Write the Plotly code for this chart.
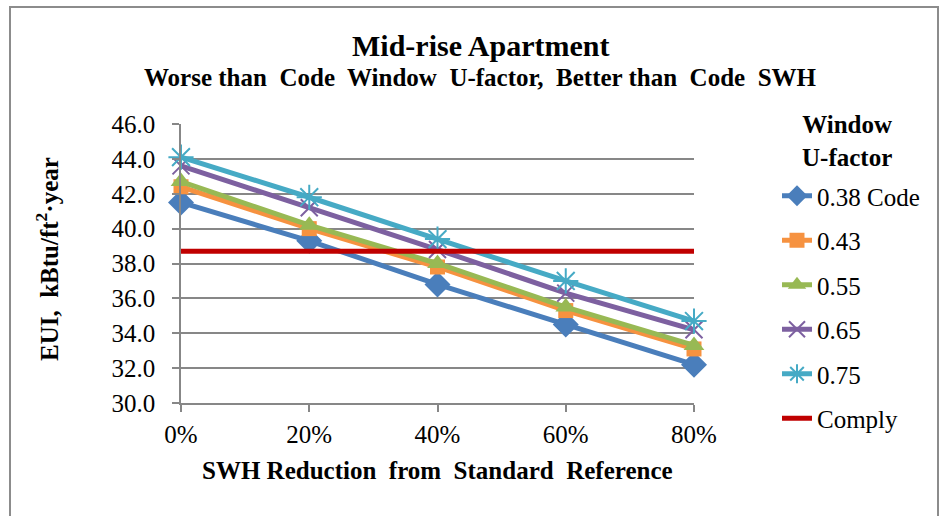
import plotly.graph_objects as go

# SWH reduction steps (%) and EUI results per window U-factor
swh_reduction = [0, 20, 40, 60, 80]
x_tick_labels = ["0%", "20%", "40%", "60%", "80%"]
series_names = ["0.38 Code", "0.43", "0.55", "0.65", "0.75"]
eui_038 = [41.5, 39.3, 36.8, 34.5, 32.2]
eui_043 = [42.4, 40.0, 37.8, 35.3, 33.1]
eui_055 = [42.7, 40.2, 38.0, 35.5, 33.3]
eui_065 = [43.6, 41.2, 38.8, 36.3, 34.2]
eui_075 = [44.1, 41.8, 39.4, 37.0, 34.7]
comply_eui = 38.7
y_ticks = [30, 32, 34, 36, 38, 40, 42, 44, 46]

FONT = "Liberation Serif"
W, H = 943, 516
L, R, T, B = 181, 694, 124, 403  # plot area in pixels


def px(x):
    return (x - L) / (R - L)


def py(y):
    return (B - y) / (B - T)


styles = [
    ("#4A7EBB", "diamond", 20, 0),
    ("#F69240", "square", 15, 0),
    ("#98B954", "triangle-up", 18, 0),
    ("#7D60A0", "x-thin-open", 17, 2),
    ("#46AAC5", "asterisk-open", 21, 2),
]
series_values = [eui_038, eui_043, eui_055, eui_065, eui_075]

fig = go.Figure()
for i, (name, vals, (color, sym, size, lw)) in enumerate(zip(series_names, series_values, styles)):
    fig.add_trace(go.Scatter(
        x=swh_reduction, y=vals, name=name, mode="lines+markers",
        line=dict(color=color, width=5),
        marker=dict(symbol=sym, size=size, color=color,
                    line=dict(color=color, width=lw)),
        cliponaxis=False, legendgroup=f"g{i}",
    ))

fig.add_trace(go.Scatter(
    x=[swh_reduction[0], swh_reduction[-1]], y=[comply_eui, comply_eui],
    name="Comply", mode="lines", line=dict(color="#C00000", width=5),
    cliponaxis=False, legendgroup="comply",
))

grid = "#878787"
fig.update_xaxes(
    range=[0, 80], tickvals=swh_reduction, ticktext=x_tick_labels,
    showgrid=False, showline=True, linecolor=grid, linewidth=1.5,
    ticks="outside", ticklen=7, tickcolor=grid, tickwidth=1.5,
    tickfont=dict(family=FONT, size=25, color="#000"),
    ticklabelstandoff=1, zeroline=False,
)
fig.update_yaxes(
    range=[30, 46], tickvals=y_ticks, tickformat=".1f",
    showgrid=True, gridcolor=grid, gridwidth=1.5,
    showline=True, linecolor=grid, linewidth=1.5,
    ticks="outside", ticklen=7, tickcolor=grid, tickwidth=1.5,
    tickfont=dict(family=FONT, size=25, color="#000"),
    ticklabelstandoff=12, zeroline=False,
)

annotations = [
    dict(text="<b>Mid-rise Apartment</b>", x=px(480), y=py(45),
         font=dict(family=FONT, size=30, color="#000")),
    dict(text="<b>Worse than\u00a0 Code\u00a0 Window\u00a0 U-factor,\u00a0 Better than\u00a0 Code\u00a0 SWH</b>",
         x=px(480), y=py(77), font=dict(family=FONT, size=25, color="#000")),
    dict(text="<b>SWH Reduction\u00a0 from\u00a0 Standard\u00a0 Reference</b>",
         x=px(437), y=py(470), font=dict(family=FONT, size=25, color="#000")),
    dict(text="<b>EUI,\u00a0 kBtu/ft<sup>2</sup>·year</b>", textangle=-90,
         x=px(47), y=py(259), font=dict(family=FONT, size=25, color="#000")),
    dict(text="<b>Window<br>U-factor</b>", x=px(847), y=py(141),
         font=dict(family=FONT, size=25, color="#000")),
]
for a in annotations:
    a.update(xref="paper", yref="paper", showarrow=False,
             xanchor="center", yanchor="middle")

fig.update_layout(
    width=W, height=H,
    margin=dict(l=L, r=W - R, t=T, b=H - B, pad=0),
    paper_bgcolor="white", plot_bgcolor="white",
    annotations=annotations,
    shapes=[dict(type="rect", xref="paper", yref="paper",
                 x0=px(10), x1=px(938), y0=py(540), y1=py(7),
                 line=dict(color="#8C8C8C", width=2))],
    legend=dict(
        x=px(777), y=py(173), xanchor="left", yanchor="top",
        font=dict(family=FONT, size=25, color="#000"),
        tracegroupgap=9, bgcolor="rgba(0,0,0,0)", maxheight=1,
    ),
    showlegend=True,
)

fig.write_html("out.html")
